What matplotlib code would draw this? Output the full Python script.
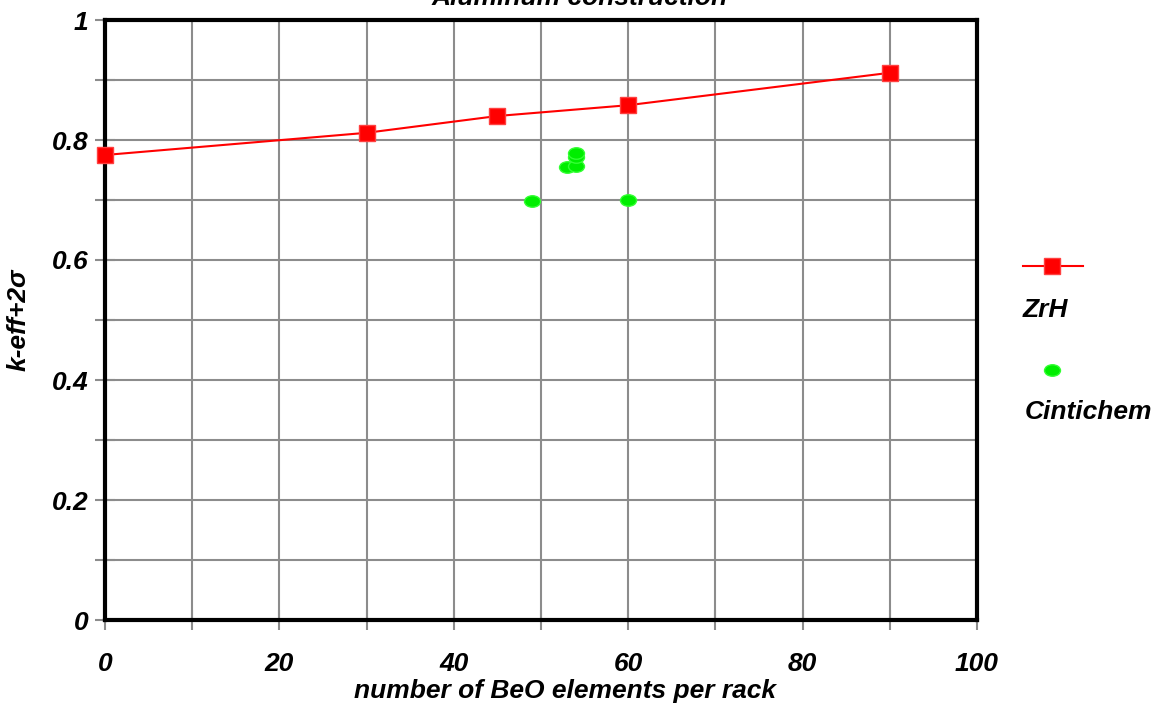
import numpy as np
import matplotlib
matplotlib.use("Agg")
import matplotlib.pyplot as plt
from matplotlib.path import Path
from matplotlib.transforms import Affine2D
from matplotlib.lines import Line2D

plt.rcParams['font.family'] = ['Liberation Sans', 'DejaVu Sans']

# ZrH series
zrh_x = [0, 30, 45, 60, 90]
zrh_y = [0.775, 0.812, 0.840, 0.858, 0.912]

# Cintichem series
cin_x = [49, 53, 54, 54, 54, 60]
cin_y = [0.698, 0.755, 0.756, 0.772, 0.778, 0.700]

title = "Aluminum construction"
xlabel = "number of BeO elements per rack"
ylabel = "k-eff+2\u03c3"

fnt = dict(fontsize=19, fontweight='bold', fontstyle='italic')

# elliptical marker like the original
ellipse = Path.unit_circle().transformed(Affine2D().scale(1, 0.72))

fig = plt.figure(figsize=(11.55, 7.04), dpi=100)
ax = fig.add_axes([105/1155, 84/704, 872/1155, 600/704])

ax.plot(zrh_x, zrh_y, color='#ff0000', lw=1.5, marker='s', ms=11.5,
        mfc='#ff0000', mec='#ff4040', mew=1, zorder=4, clip_on=False)
ax.plot(cin_x, cin_y, ls='none', marker=ellipse, ms=11.5,
        mfc='#00ee00', mec='#33ff33', mew=1, zorder=4, clip_on=False)

ax.set_xlim(0, 100)
ax.set_ylim(0, 1)
ax.set_xticks(np.arange(0, 101, 20))
ax.set_xticks(np.arange(0, 101, 10), minor=True)
ax.set_yticks(np.arange(0, 1.01, 0.2))
ax.set_yticks(np.arange(0, 1.01, 0.1), minor=True)
ax.set_xticklabels(['0', '20', '40', '60', '80', '100'], **fnt)
ax.set_yticklabels(['0', '0.2', '0.4', '0.6', '0.8', '1'], **fnt)
ax.tick_params(which='both', direction='inout', length=14, width=1.5,
               color='#8c8c8c')
ax.tick_params(axis='y', pad=5)
ax.tick_params(axis='x', pad=16)
ax.grid(True, which='both', color='#8c8c8c', lw=1.5)
ax.set_axisbelow(True)
for s in ax.spines.values():
    s.set_linewidth(3)
    s.set_color('black')

# x label sits a bit right of centre in the original
ax.set_xlabel(xlabel, va='top', **fnt)
ax.xaxis.set_label_coords((565 - 105) / 872, -(679 - 620) / 600)
fig.text(19/1155, 1 - 320/704, ylabel, rotation=90, ha='center', va='center', **fnt)
# title is clipped by the top edge, as in the original
fig.text(580/1155, 1 - 5/704, title, ha='center', va='baseline', **fnt)

# legend drawn by hand, markers above their labels
fig.add_artist(Line2D([1023/1155, 1083/1155], [1 - 266/704, 1 - 266/704],
                      color='#ff0000', lw=1.5, transform=fig.transFigure))
fig.add_artist(Line2D([1052/1155], [1 - 266/704], ls='none', marker='s', ms=11.5,
                      mfc='#ff0000', mec='#ff4040', mew=1, transform=fig.transFigure))
fig.text(1023/1155, 1 - 310/704, "ZrH", ha='left', va='center', **fnt)
fig.add_artist(Line2D([1052/1155], [1 - 370/704], ls='none', marker=ellipse, ms=11.5,
                      mfc='#00ee00', mec='#33ff33', mew=1, transform=fig.transFigure))
fig.text(1025/1155, 1 - 412/704, "Cintichem", ha='left', va='center', **fnt)

fig.savefig("out.png", dpi=100)
